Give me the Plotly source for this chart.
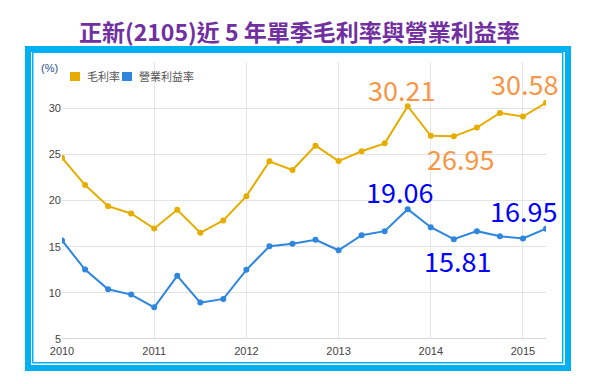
import plotly.graph_objects as go

# ---- data ----
quarters = [2010.0, 2010.25, 2010.5, 2010.75,
            2011.0, 2011.25, 2011.5, 2011.75,
            2012.0, 2012.25, 2012.5, 2012.75,
            2013.0, 2013.25, 2013.5, 2013.75,
            2014.0, 2014.25, 2014.5, 2014.75,
            2015.0, 2015.25]
gross_margin = [24.64, 21.67, 19.39, 18.6,
                16.97, 19.0, 16.5, 17.84,
                20.47, 24.24, 23.3, 25.94,
                24.27, 25.33, 26.19, 30.21,
                27.0, 26.95, 27.9, 29.48,
                29.09, 30.58]
op_margin = [15.67, 12.52, 10.38, 9.81,
             8.43, 11.84, 8.94, 9.34,
             12.49, 15.05, 15.31, 15.74,
             14.61, 16.24, 16.68, 19.06,
             17.11, 15.81, 16.68, 16.13,
             15.88, 16.95]
series_names = ["毛利率", "營業利益率"]
year_ticks = [2010, 2011, 2012, 2013, 2014, 2015]
y_ticks = [5, 10, 15, 20, 25, 30, 35]
y_ticktext = ["5", "10", "15", "20", "25", "30", ""]
title_text = "正新(2105)近 5 年單季毛利率與營業利益率"

# labelled points: (series index, point index)
labelled = [(0, 15), (0, 17), (0, 21), (1, 15), (1, 17), (1, 21)]

YELLOW = "#E6AD00"
BLUE = "#2E86DE"
BORDER = "#00B0F0"

W, H = 591, 384
L, R, T, B = 62, 45, 62, 45
PW, PH = W - L - R, H - T - B


def px(x):
    return (x - L) / PW


def py(y):
    return (H - B - y) / PH


fig = go.Figure()
series = [gross_margin, op_margin]
colors = [YELLOW, BLUE]
for name, vals, col in zip(series_names, series, colors):
    fig.add_trace(go.Scatter(
        x=quarters, y=vals, name=name, mode="lines+markers",
        line=dict(color=col, width=2),
        marker=dict(color=col, size=6),
        showlegend=False, hoverinfo="skip"))

# value labels
label_styles = {
    (0, 15): dict(color="#F79646", xshift=-6, yshift=17),
    (0, 17): dict(color="#F79646", xshift=7, yshift=-22),
    (0, 21): dict(color="#F79646", xshift=-22, yshift=19),
    (1, 15): dict(color="#0000FF", xshift=-8, yshift=18),
    (1, 17): dict(color="#0000FF", xshift=4, yshift=-21),
    (1, 21): dict(color="#0000FF", xshift=-23, yshift=18),
}
for (si, pi) in labelled:
    st = label_styles[(si, pi)]
    v = series[si][pi]
    fig.add_annotation(
        x=quarters[pi], y=v, xref="x", yref="y",
        text=f"{v:.2f}", showarrow=False,
        xshift=st["xshift"], yshift=st["yshift"],
        font=dict(family="Noto Sans CJK TC", size=27, color=st["color"]))

shapes = []
# outer thick frame
shapes.append(dict(type="rect", xref="paper", yref="paper",
                   x0=px(28), x1=px(568), y0=py(49), y1=py(368),
                   line=dict(color=BORDER, width=6), layer="above"))
# inner thin frame
shapes.append(dict(type="rect", xref="paper", yref="paper",
                   x0=px(32.7), x1=px(562.7), y0=py(52.3), y1=py(362.7),
                   line=dict(color=BORDER, width=1.5), layer="above"))

# legend (manual, compact like reference)
leg_y = py(76.5)
leg_items = [(70, 85, series_names[0], YELLOW), (122, 137, series_names[1], BLUE)]
for sx, tx, name, col in leg_items:
    shapes.append(dict(type="rect", xref="paper", yref="paper",
                       x0=px(sx), x1=px(sx + 10), y0=py(72), y1=py(81),
                       fillcolor=col, line=dict(width=0)))
    fig.add_annotation(x=px(tx), y=leg_y, xref="paper", yref="paper",
                       text=name, showarrow=False, xanchor="left", yanchor="middle",
                       font=dict(family="Noto Sans CJK TC", size=11, color="#555555"))

# (%) label
fig.add_annotation(x=px(49), y=py(68), xref="paper", yref="paper",
                   text="(%)", showarrow=False, xanchor="center", yanchor="middle",
                   font=dict(family="Arial", size=11, color="#1F4E8C"))

# title
fig.add_annotation(x=px(299), y=py(31), xref="paper", yref="paper",
                   text=title_text, showarrow=False, xanchor="center", yanchor="middle",
                   font=dict(family="Noto Sans CJK TC", size=23, color="#7030A0",
                             weight="bold"))

fig.update_layout(
    width=W, height=H,
    margin=dict(l=L, r=R, t=T, b=B),
    paper_bgcolor="white", plot_bgcolor="white",
    shapes=shapes,
    xaxis=dict(range=[2010, 2015.25], tickvals=year_ticks,
               ticktext=[str(y) for y in year_ticks],
               showgrid=True, gridcolor="#E6E6E6", gridwidth=1,
               zeroline=False, showline=False, ticks="",
               ticklabelstandoff=4,
               tickfont=dict(family="Arial", size=11, color="#444444")),
    yaxis=dict(range=[5, 35], tickvals=y_ticks, ticktext=y_ticktext,
               showgrid=True, gridcolor="#E3E3E3", gridwidth=1,
               zeroline=False, showline=False, ticks="",
               tickfont=dict(family="Arial", size=11, color="#444444")),
)
# baseline at 5
fig.add_shape(type="line", xref="paper", yref="y", x0=0, x1=1, y0=5, y1=5,
              line=dict(color="#C8C8C8", width=1.5), layer="below")

fig.write_html("out.html")
